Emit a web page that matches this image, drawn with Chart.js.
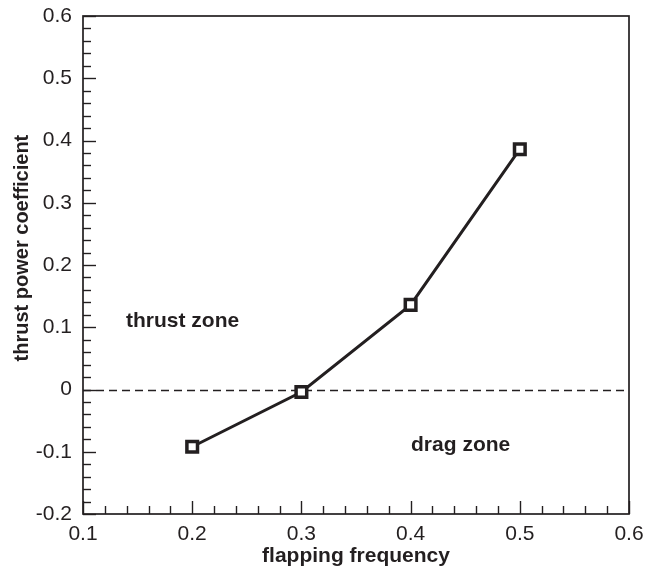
<!DOCTYPE html>
<html>
<head>
<meta charset="utf-8">
<script src="https://cdn.jsdelivr.net/npm/chart.js@4/dist/chart.umd.min.js"></script>
<style>
  html, body { margin: 0; padding: 0; background: #fff; }
  #wrap { width: 646px; height: 571px; }
</style>
</head>
<body>
<div id="wrap"><canvas id="chart" width="646" height="571"></canvas></div>
<script>
// flapping frequency vs thrust power coefficient
var frequencies = [0.2, 0.3, 0.4, 0.5];
var thrustPower = [-0.092, -0.004, 0.136, 0.386];

// zone labels, anchored (left / baseline) in data coordinates
var zoneLabels = ["thrust zone", "drag zone"];
var zoneX = [0.1394, 0.4004];
var zoneY = [0.100, -0.099];

var yTitle = "thrust power coefficient";

var points = frequencies.map(function (f, i) {
  return { x: f, y: thrustPower[i] };
});

var FONT = "'Liberation Sans', Arial, Helvetica, sans-serif";
var INK = "#231f20";

// inside tick marks (major + 4 minor), frame, zero line, labels
var framePlugin = {
  id: "frame",
  beforeDatasetsDraw: function (chart) {
    var ctx = chart.ctx;
    var a = chart.chartArea;
    var xs = chart.scales.x;
    var ys = chart.scales.y;
    ctx.save();

    // dashed zero line
    var y0 = Math.round(ys.getPixelForValue(0)) + 0.5;
    ctx.strokeStyle = INK;
    ctx.lineWidth = 1.3;
    ctx.setLineDash([8, 5]);
    ctx.beginPath();
    ctx.moveTo(a.left, y0);
    ctx.lineTo(a.right, y0);
    ctx.stroke();
    ctx.setLineDash([]);

    // tick marks
    ctx.lineWidth = 1.4;
    var i, v, p, len;
    for (i = 0; i <= 25; i++) {
      v = xs.min + i * 0.02;
      p = Math.round(xs.getPixelForValue(v)) + 0.5;
      len = i % 5 === 0 ? 13 : 8;
      ctx.beginPath();
      ctx.moveTo(p, a.bottom);
      ctx.lineTo(p, a.bottom - len);
      ctx.stroke();
    }
    for (i = 0; i <= 40; i++) {
      v = ys.min + i * 0.02;
      p = Math.round(ys.getPixelForValue(v)) + 0.5;
      len = i % 5 === 0 ? 13 : 8;
      ctx.beginPath();
      ctx.moveTo(a.left, p);
      ctx.lineTo(a.left + len, p);
      ctx.stroke();
    }

    // frame
    ctx.lineWidth = 1.7;
    ctx.strokeStyle = INK;
    ctx.strokeRect(a.left, a.top, a.right - a.left, a.bottom - a.top);

    // zone labels
    ctx.fillStyle = INK;
    ctx.font = "bold 21px " + FONT;
    ctx.textAlign = "left";
    ctx.textBaseline = "alphabetic";
    zoneLabels.forEach(function (t, k) {
      ctx.fillText(t, xs.getPixelForValue(zoneX[k]), ys.getPixelForValue(zoneY[k]));
    });

    // y axis title, sits a little above the middle of the axis
    ctx.font = "bold 20px " + FONT;
    ctx.translate(22, a.top + (a.bottom - a.top) * 0.466);
    ctx.rotate(-Math.PI / 2);
    ctx.textAlign = "center";
    ctx.textBaseline = "middle";
    ctx.fillText(yTitle, 0, 0);
    ctx.restore();
  }
};

new Chart(document.getElementById("chart"), {
  type: "scatter",
  data: {
    datasets: [
      {
        data: points,
        showLine: true,
        borderColor: INK,
        borderWidth: 3,
        pointStyle: "rect",
        pointRadius: 7.5,
        pointBorderWidth: 3.5,
        pointBackgroundColor: "#fff",
        pointBorderColor: INK,
        pointHoverRadius: 7.5,
      },
    ],
  },
  options: {
    responsive: false,
    animation: false,
    layout: { padding: { top: 16, right: 17, left: 0, bottom: 0 } },
    plugins: {
      legend: { display: false },
      tooltip: { enabled: false },
    },
    scales: {
      x: {
        type: "linear",
        min: 0.1,
        max: 0.6,
        grid: { display: false, drawTicks: false },
        border: { display: false },
        ticks: {
          stepSize: 0.1,
          padding: 8,
          color: INK,
          font: { family: FONT, size: 21 },
          callback: function (v) { return (Math.round(v * 10) / 10).toString(); },
        },
        title: {
          display: true,
          text: "flapping frequency",
          color: INK,
          font: { family: FONT, size: 21, weight: "bold" },
          padding: { top: 0, bottom: 2 },
        },
        afterFit: function (scale) {
          scale.height = 57;
          scale.paddingLeft = 0;
          scale.paddingRight = 0;
        },
      },
      y: {
        type: "linear",
        min: -0.2,
        max: 0.6,
        grid: { display: false, drawTicks: false },
        border: { display: false },
        ticks: {
          stepSize: 0.1,
          padding: 11,
          color: INK,
          font: { family: FONT, size: 21 },
          callback: function (v) {
            var r = Math.round(v * 10) / 10;
            return r === 0 ? "0" : r.toString();
          },
        },
        title: { display: false },
        afterFit: function (scale) {
          scale.width = 83;
          scale.paddingTop = 0;
          scale.paddingBottom = 0;
        },
      },
    },
  },
  plugins: [framePlugin],
});
</script>
</body>
</html>
